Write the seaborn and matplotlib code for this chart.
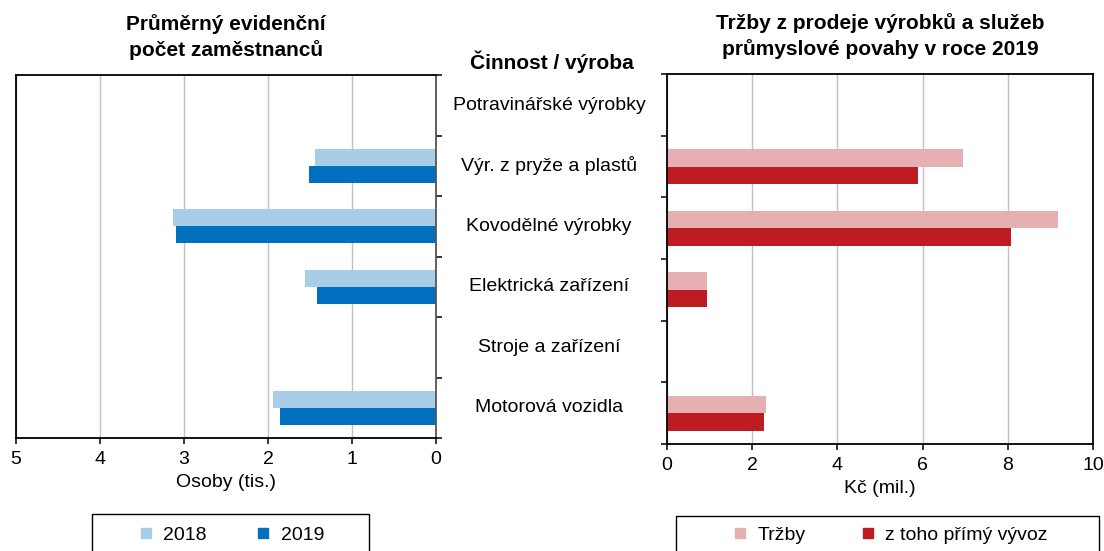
import numpy as np
import pandas as pd
import seaborn as sns
import matplotlib.pyplot as plt
import matplotlib.transforms as mtransforms
from matplotlib.lines import Line2D
from matplotlib.patches import Rectangle

categories = ['Potravinářské výrobky', 'Výr. z pryže a plastů', 'Kovodělné výrobky',
              'Elektrická zařízení', 'Stroje a zařízení', 'Motorová vozidla']
staff_2018 = [0, 1.44, 3.13, 1.56, 0, 1.94]
staff_2019 = [0, 1.51, 3.09, 1.42, 0, 1.86]
sales = [0, 6.96, 9.19, 0.93, 0, 2.32]
export = [0, 5.89, 8.07, 0.93, 0, 2.28]

left_series = ['2018', '2019']
right_series = ['Tržby', 'z toho přímý vývoz']
left_colors = ['#A7CDE7', '#0070BF']
right_colors = ['#E6AFB2', '#BE1B23']

df_left = pd.DataFrame({
    'cat': categories * 2,
    'val': staff_2018 + staff_2019,
    'ser': [left_series[0]] * 6 + [left_series[1]] * 6,
})
df_right = pd.DataFrame({
    'cat': categories * 2,
    'val': sales + export,
    'ser': [right_series[0]] * 6 + [right_series[1]] * 6,
})

sns.set_style('white')
plt.rcParams['font.family'] = ['Liberation Sans', 'DejaVu Sans']
plt.rcParams['font.size'] = 14
plt.rcParams['text.color'] = 'black'
plt.rcParams['axes.labelcolor'] = 'black'
plt.rcParams['xtick.color'] = 'black'
plt.rcParams['ytick.color'] = 'black'

fig = plt.figure(figsize=(11.04, 5.51), dpi=100)
W, H = 1104, 551
ax1 = fig.add_axes([16 / W, 1 - 438 / H, 420 / W, 363 / H])
ax2 = fig.add_axes([667 / W, 1 - 444 / H, 426 / W, 370 / H])

sns.barplot(data=df_left, x='val', y='cat', hue='ser', orient='h', order=categories,
            hue_order=left_series, palette=left_colors, saturation=1, width=0.57,
            linewidth=0, legend=False, ax=ax1)
sns.barplot(data=df_right, x='val', y='cat', hue='ser', orient='h', order=categories,
            hue_order=right_series, palette=right_colors, saturation=1, width=0.57,
            linewidth=0, legend=False, ax=ax2)

bounds = np.arange(-0.5, 6.0, 1.0)
for ax in (ax1, ax2):
    ax.set_ylim(5.5, -0.5)
    ax.set_yticks(bounds)
    ax.set_yticklabels([])
    ax.set_ylabel('')
    ax.set_axisbelow(True)
    ax.grid(axis='x', color='#C0C0C0', lw=1)
    ax.grid(axis='y', visible=False)
    for s in ax.spines.values():
        s.set_color('black')
        s.set_linewidth(1.3)
    ax.tick_params(axis='both', direction='out', length=4, width=1.1, color='black',
                   labelsize=14, pad=5)
    ax.tick_params(axis='x', bottom=True)

ax1.set_xlim(5, 0)
ax1.set_xticks(range(0, 6))
ax1.yaxis.tick_right()
ax1.tick_params(axis='y', right=True, left=False)
ax1.spines['right'].set_color('#555555')
ax1.set_xlabel('Osoby (tis.)', fontsize=14, labelpad=5)
ax1.set_title('Průměrný evidenční\npočet zaměstnanců', fontsize=15, fontweight='bold',
              pad=14, linespacing=1.32)

ax2.set_xlim(0, 10)
ax2.set_xticks(range(0, 11, 2))
ax2.tick_params(axis='y', left=True, right=False)
ax2.set_xlabel('Kč (mil.)', fontsize=14, labelpad=5)
ax2.set_title('Tržby z prodeje výrobků a služeb\nprůmyslové povahy v roce 2019', fontsize=15,
              fontweight='bold', pad=14, linespacing=1.32)

# category labels in the middle column
trans = mtransforms.blended_transform_factory(fig.transFigure, ax1.transData)
for i, c in enumerate(categories):
    fig.text(549 / W, i, c, transform=trans, ha='center', va='center', fontsize=14)
fig.text(552 / W, 1 - 62 / H, 'Činnost / výroba', ha='center', va='center',
         fontsize=15, fontweight='bold')

# legends with boxes
fig.patches.append(Rectangle((92 / W, -0.1), 277 / W, 0.1 + (551 - 514) / H,
                             transform=fig.transFigure, fill=False, ec='black', lw=1))
fig.patches.append(Rectangle((676 / W, -0.1), 423 / W, 0.1 + (551 - 516) / H,
                             transform=fig.transFigure, fill=False, ec='black', lw=1))

def handles(labels, colors):
    return [Line2D([], [], marker='s', ls='', markersize=7, color=c, label=l)
            for l, c in zip(labels, colors)]

fig.legend(handles=handles(left_series, left_colors), loc='center',
           bbox_to_anchor=(232 / W, 1 - 535 / H), ncol=2, frameon=False, fontsize=14,
           handlelength=0.6, handletextpad=0.6, columnspacing=2.6, borderpad=0)
fig.legend(handles=handles(right_series, right_colors), loc='center',
           bbox_to_anchor=(891 / W, 1 - 535 / H), ncol=2, frameon=False, fontsize=14,
           handlelength=0.6, handletextpad=0.6, columnspacing=2.9, borderpad=0)

fig.savefig('out.png', dpi=100)
